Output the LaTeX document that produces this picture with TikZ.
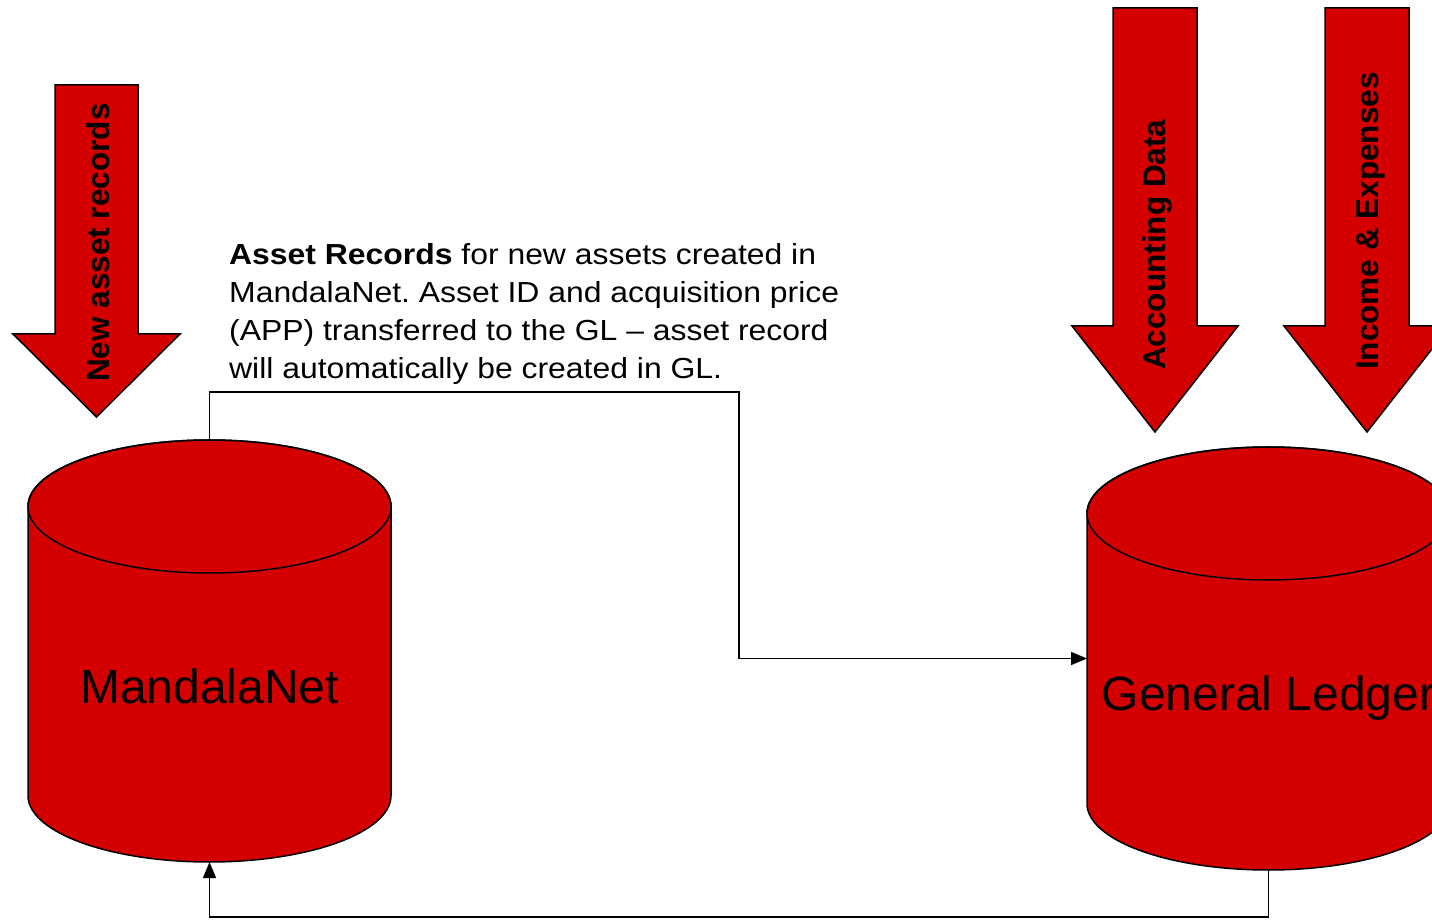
\documentclass[tikz,border=0pt]{standalone}
\usepackage{fontspec}
\setmainfont{Liberation Sans}
\newfontfamily\descfont[FakeStretch=1.1]{Liberation Sans}
\frenchspacing
\usetikzlibrary{arrows.meta}
\definecolor{myred}{RGB}{212,0,0}
\tikzset{
  shapeline/.style={draw=black, line width=1.5pt, fill=myred, line join=miter},
  conn/.style={draw=black, line width=1.6pt},
  conntip/.style={-{Triangle[length=16pt,width=13pt]}},
  arrowlbl/.style={rotate=90, anchor=base west, inner sep=0pt, font=\fontsize{31.5}{36}\selectfont\bfseries},
  dbbox/.style={minimum width=363pt, inner sep=0pt, outer sep=0pt},
  dblbl/.style={anchor=base, inner sep=0pt, font=\fontsize{48}{56}\selectfont}
}
\begin{document}
\begin{tikzpicture}[x=1pt,y=1pt]
\useasboundingbox (0,0) rectangle (1432,919);
\clip (0,0) rectangle (1432,919);
\fill[white] (0,0) rectangle (1432,919);

% block arrows
\draw[shapeline] (55,834) -- (138,834) -- (138,585) -- (180,585) -- (96.5,502) -- (13,585) -- (55,585) -- cycle;
\draw[shapeline] (1113,911) -- (1197,911) -- (1197,593) -- (1238,593) -- (1155,487) -- (1072,593) -- (1113,593) -- cycle;
\draw[shapeline] (1325,911) -- (1409,911) -- (1409,593) -- (1450,593) -- (1367,487) -- (1284,593) -- (1325,593) -- cycle;
\node[arrowlbl] (lblNew) at (109,537) {New asset records};
\node[arrowlbl] (lblAcc) at (1165,549) {Accounting Data};
\node[arrowlbl] (lblInc) at (1378,549) {Income \& Expenses};

% database containers
\node[dbbox, minimum height=422pt] (mn) at (209.5,268) {};
\node[dbbox, minimum height=423pt] (gl) at (1268.5,260.5) {};

% MandalaNet cylinder
\draw[shapeline] (28,412.5) -- (28,123.5) arc[start angle=180, end angle=360, x radius=181.5, y radius=66.5]
  -- (391,412.5) arc[start angle=0, end angle=180, x radius=181.5, y radius=66.5] -- cycle;
\draw[line width=1.5pt] (209.5,412.5) ellipse [x radius=181.5, y radius=66.5];
% General Ledger cylinder
\draw[shapeline] (1087,405.5) -- (1087,115.5) arc[start angle=180, end angle=360, x radius=181.5, y radius=66.5]
  -- (1450,405.5) arc[start angle=0, end angle=180, x radius=181.5, y radius=66.5] -- cycle;
\draw[line width=1.5pt] (1268.5,405.5) ellipse [x radius=181.5, y radius=66.5];

\node[dblbl] (mnlbl) at (209.5,216) {MandalaNet};
\node[dblbl] (gllbl) at (1268.5,209) {General Ledger};

% description
\node[anchor=north west, inner sep=0pt, align=left, font=\descfont\fontsize{29}{38}\selectfont] (desc) at (229,676)
  {\textbf{Asset Records} for new assets created in\\MandalaNet. Asset ID and acquisition price\\(APP) transferred to the GL – asset record\\will automatically be created in GL.};

% connectors
\coordinate (c1) at (739,527);
\draw[conn, conntip] (mn.north) |- (c1) |- (gl.west);
\coordinate (c2) at (1268.5,2);
\draw[conn, conntip] (gl.south) -- (c2) -| (mn.south);
\end{tikzpicture}
\end{document}
